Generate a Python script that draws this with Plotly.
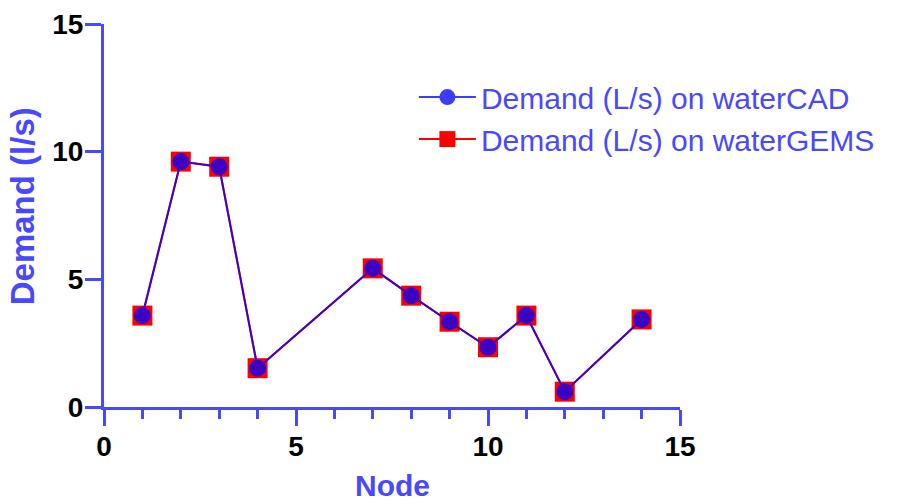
import plotly.graph_objects as go

nodes = [1, 2, 3, 4, 7, 8, 9, 10, 11, 12, 14]
demand_watercad = [3.58, 9.61, 9.41, 1.52, 5.43, 4.36, 3.34, 2.34, 3.58, 0.60, 3.43]
demand_watergems = [3.58, 9.61, 9.41, 1.52, 5.43, 4.36, 3.34, 2.34, 3.58, 0.60, 3.43]
x_ticks = [0, 5, 10, 15]
y_ticks = [0, 5, 10, 15]

BLUE = "#4848ff"
FONT = "Liberation Sans, Arial, sans-serif"

fig = go.Figure()
fig.add_trace(go.Scatter(
    x=nodes, y=demand_watergems, mode="lines+markers",
    name="Demand (L/s) on waterGEMS",
    line=dict(color="#ff0000", width=2),
    marker=dict(symbol="square", size=20, color="#ff0000"),
))
fig.add_trace(go.Scatter(
    x=nodes, y=demand_watercad, mode="lines+markers",
    name="Demand (L/s) on waterCAD",
    line=dict(color="#0000ff", width=2),
    marker=dict(symbol="circle", size=17, color="#0000ff"),
    opacity=0.76,
))

axis_common = dict(
    showline=True, linecolor=BLUE, linewidth=3,
    ticks="outside", ticklen=16, tickwidth=3, tickcolor=BLUE,
    showgrid=False, zeroline=False, automargin=False,
    tickfont=dict(family=FONT, size=28, color="black", weight="bold"),
    ticklabelstandoff=-4,
    range=[0, 15],
)

fig.update_layout(
    width=897, height=502,
    margin=dict(l=104, r=217, t=24, b=95),
    paper_bgcolor="white", plot_bgcolor="white",
    xaxis=dict(**axis_common, tickvals=x_ticks,
               minor=dict(dtick=1, ticks="outside", ticklen=9, tickwidth=3, tickcolor=BLUE)),
    yaxis=dict(**axis_common, tickvals=y_ticks),
    legend=dict(x=0.538, y=0.877, xanchor="left", yanchor="top",
                traceorder="reversed", bgcolor="rgba(0,0,0,0)",
                font=dict(family=FONT, size=30, color=BLUE),
                itemwidth=57, tracegroupgap=0),
    annotations=[
        dict(text="Demand (l/s)", textangle=-90, xref="paper", yref="paper",
             x=-0.14, y=0.525, xanchor="center", yanchor="middle", showarrow=False,
             font=dict(family=FONT, size=33, color=BLUE, weight="bold")),
        dict(text="Node", xref="paper", yref="paper",
             x=0.5, y=-0.205, xanchor="center", yanchor="middle", showarrow=False,
             font=dict(family=FONT, size=30, color=BLUE, weight="bold")),
    ],
    showlegend=True,
)

fig.write_html("out.html", config={"displayModeBar": False},
               post_script="document.body.style.margin='0';")
